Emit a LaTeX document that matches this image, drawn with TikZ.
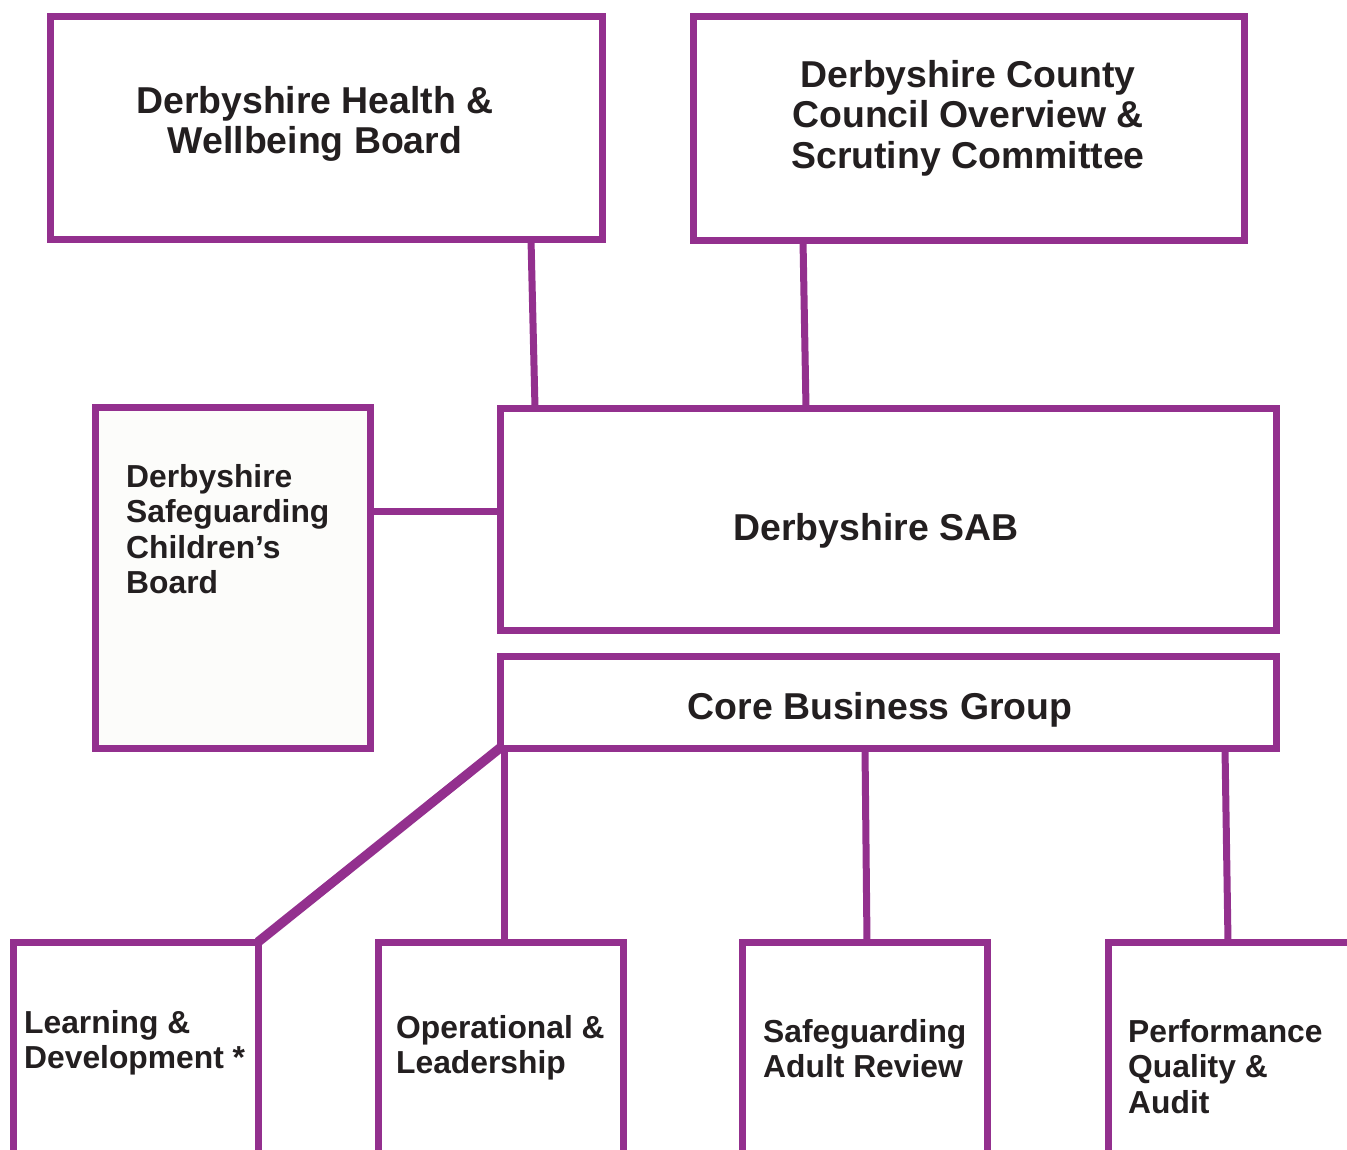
\documentclass[tikz,border=0pt]{standalone}
\usepackage{fontspec}
\setmainfont{Liberation Sans}
\definecolor{dpurple}{HTML}{93308E}
\definecolor{ink}{HTML}{231F20}
\definecolor{offwhite}{HTML}{FCFCFA}
\begin{document}
\begin{tikzpicture}[x=1pt,y=-1pt,
  box/.style={draw=dpurple, line width=7pt, rectangle, inner sep=0pt, outer sep=0pt, fill=white},
  conn/.style={draw=dpurple, line width=7pt},
  big/.style={font=\fontsize{37.4}{40.5}\selectfont\bfseries, text=ink, align=center, inner sep=0pt},
  small/.style={font=\fontsize{31.8}{35.5}\selectfont\bfseries, text=ink, align=left, anchor=north west, inner sep=0pt}]
\useasboundingbox (0,0) rectangle (1347,1149);
\clip (0,0) rectangle (1347,1149);
% boxes
\node[box, minimum width=552, minimum height=223] (b1) at (326,127.5) {};
\node[box, minimum width=551, minimum height=224] (b2) at (968.5,128) {};
\node[box, minimum width=776, minimum height=222] (sab) at (888,519) {};
\node[box, fill=offwhite, minimum width=275, minimum height=341] (dscb) at (232.5,577.5) {};
\node[box, minimum width=776, minimum height=92] (cbg) at (888,702) {};
\node[box, minimum width=245, minimum height=300] (ld) at (135.5,1092) {};
\node[box, minimum width=245, minimum height=300] (ops) at (500.5,1092) {};
\node[box, minimum width=245, minimum height=300] (sar) at (864.5,1092) {};
\node[box, minimum width=300, minimum height=300] (pqa) at (1258,1092) {};
% texts
\node[big] (t1) at (315,124) {Derbyshire Health \&\\Wellbeing Board};
\node[big] (t2) at (968,118) {Derbyshire County\\Council Overview \&\\Scrutiny Committee};
\node[big] (tsab) at (876,531) {Derbyshire SAB};
\node[big] (tcbg) at (880,710) {Core Business Group};
\node[small] (tdscb) at (126,464) {Derbyshire\\Safeguarding\\Children’s\\Board};
\node[small] (tld) at (24,1010) {Learning \&\\Development *};
\node[small] (tops) at (396,1015) {Operational \&\\Leadership};
\node[small] (tsar) at (763,1019) {Safeguarding\\Adult Review};
\node[small] (tpqa) at (1128,1019) {Performance\\Quality \&\\Audit};
% connectors
\draw[conn] ([xshift=481]b1.south west) -- ([xshift=35]sab.north west);
\draw[conn] ([xshift=110]b2.south west) -- ([xshift=306]sab.north west);
\draw[conn] ([yshift=66.5]dscb.east) -- ([yshift=8]sab.west);
\draw[conn, line width=9.5pt] (cbg.south west) -- (ld.north east);
\draw[conn] ([xshift=4]cbg.south west) -- ([xshift=126]ops.north west);
\draw[conn] ([xshift=365]cbg.south west) -- ([xshift=125]sar.north west);
\draw[conn] ([xshift=725]cbg.south west) -- ([xshift=120]pqa.north west);
\end{tikzpicture}
\end{document}
